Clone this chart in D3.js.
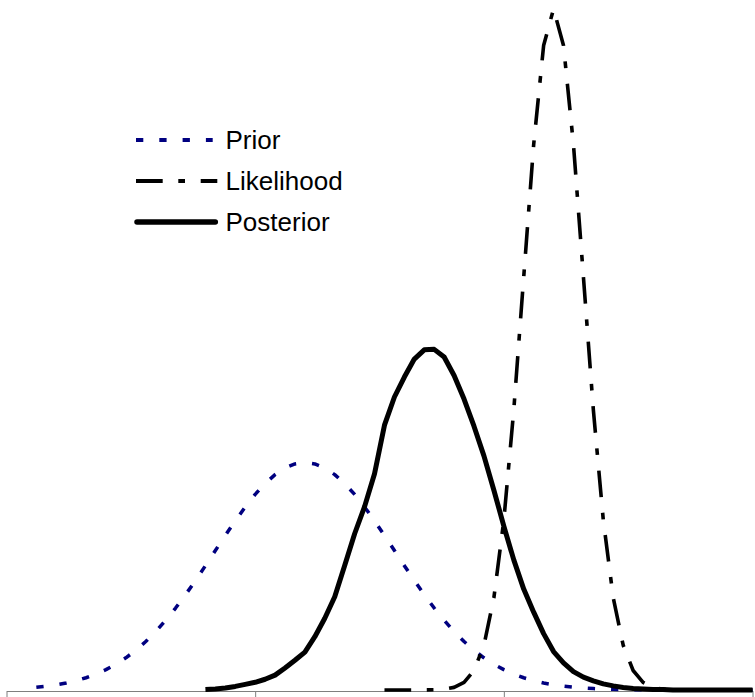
<!DOCTYPE html>
<html>
<head>
<meta charset="utf-8">
<script src="https://cdn.jsdelivr.net/npm/d3@7"></script>
<style>
  body { margin: 0; background: #fff; }
  svg { display: block; }
</style>
</head>
<body>
<script>
// x positions shared by all three curves (one value per integer step)
const xValues = [
  0, 1, 2, 3, 4, 5, 6, 7, 8, 9, 10, 11, 12, 13, 14, 15, 16, 17, 18, 19,
  20, 21, 22, 23, 24, 25, 26, 27, 28, 29, 30, 31, 32, 33, 34, 35, 36, 37, 38, 39,
  40, 41, 42, 43, 44, 45, 46, 47, 48, 49, 50, 51, 52, 53, 54, 55, 56, 57, 58, 59,
  60, 61, 62, 63, 64, 65, 66, 67, 68, 69, 70, 71, 72, 73, 74, 75
];

// null = point not plotted
const priorValues = [
  null, null, null, 0.00054, 0.00075, 0.00102, 0.00137, 0.00182, 0.00239, 0.00310,
  0.00397, 0.00502, 0.00628, 0.00775, 0.00946, 0.01142, 0.01360, 0.01600, 0.01861, 0.02138,
  0.02427, 0.02723, 0.03017, 0.03303, 0.03572, 0.03818, 0.04031, 0.04205, 0.04334, 0.04413,
  0.04440, 0.04413, 0.04334, 0.04205, 0.04031, 0.03818, 0.03572, 0.03303, 0.03017, 0.02723,
  0.02427, 0.02138, 0.01861, 0.01600, 0.01360, 0.01142, 0.00946, 0.00775, 0.00628, 0.00502,
  0.00397, 0.00310, 0.00239, 0.00182, 0.00137, 0.00102, 0.00075, 0.00054, 0.00039, 0.00028,
  0.00019, 0.00013, 0.00009, 0.00006, 0.00004, 0.00003, 0.00002, 0.00001, 0.00001, 0,
  0, 0, 0, 0, 0, 0
];

const likelihoodValues = [
  null, null, null, null, null, null, null, null, null, null,
  null, null, null, null, null, null, null, null, null, null,
  null, null, null, null, null, null, null, null, null, null,
  null, null, null, null, null, null, null, null, 0, 0,
  0, 0, 0.00001, 0.00004, 0.00016, 0.00051, 0.00148, 0.00381, 0.00874, 0.01800,
  0.03317, 0.05467, 0.08066, 0.10648, 0.12580, 0.13298, 0.12580, 0.10648, 0.08066, 0.05467,
  0.03317, 0.01800, 0.00874, 0.00381, 0.00148, 0.00051, 0.00016, 0.00004, 0.00001, 0,
  0, 0, 0, 0, 0, 0
];

const posteriorValues = [
  null, null, null, null, null, null, null, null, null, null,
  null, null, null, null, null, null, null, null, null, null,
  0.0001, 0.0002, 0.0004, 0.0007, 0.0011, 0.0015, 0.0021, 0.0029, 0.0043, 0.0058,
  0.0074, 0.0104, 0.0140, 0.0182, 0.0243, 0.0305, 0.0358, 0.0422, 0.0517, 0.0572,
  0.0611, 0.0646, 0.0664, 0.0665, 0.0650, 0.0614, 0.0568, 0.0515, 0.0457, 0.0390,
  0.0320, 0.0254, 0.0197, 0.0152, 0.0110, 0.0075, 0.0053, 0.0036, 0.0025, 0.0018,
  0.0012, 0.0008, 0.0005, 0.0003, 0.0002, 0.0001, 0.0001, 0, 0, 0,
  0, 0, 0, 0, 0, 0
];

const tickValues = [0, 25, 50, 75];
const seriesNames = ['Prior', 'Likelihood', 'Posterior'];

const width = 755;
const height = 697;

const svg = d3.select('body')
  .append('svg')
  .attr('width', width)
  .attr('height', height);

const x = d3.scaleLinear().domain([0, 75]).range([6.5, 752.5]);
const y = d3.scaleLinear().domain([0, 0.1347]).range([690, 0]);

const axis = svg.append('g')
  .attr('transform', 'translate(0,691)')
  .call(d3.axisBottom(x)
    .tickValues(tickValues)
    .tickSize(6)
    .tickSizeOuter(0)
    .tickFormat(''));
axis.selectAll('path, line').attr('stroke', '#7f7f7f').attr('stroke-width', 1);

const styles = {
  Prior: { color: '#000080', width: 3.5, dash: '7.3,16', cap: 'butt' },
  Likelihood: { color: '#000', width: 3.6, dash: '26.7,15.6,6.7,15.7', cap: 'butt' },
  Posterior: { color: '#000', width: 5, dash: null, cap: 'round' }
};

const seriesValues = {
  Prior: priorValues,
  Likelihood: likelihoodValues,
  Posterior: posteriorValues
};

const line = d3.line()
  .defined(d => d.v != null)
  .x(d => x(d.x))
  .y(d => y(d.v));

seriesNames.forEach(name => {
  const pts = xValues.map((xv, i) => ({ x: xv, v: seriesValues[name][i] }));
  const s = styles[name];
  svg.append('path')
    .datum(pts)
    .attr('fill', 'none')
    .attr('stroke', s.color)
    .attr('stroke-width', s.width)
    .attr('stroke-linejoin', 'round')
    .attr('stroke-linecap', 'butt')
    .attr('stroke-dasharray', s.dash)
    .attr('d', line);
});

// legend
const legend = svg.append('g').attr('transform', 'translate(136,140)');
const rowGap = 41;
const lineEnd = { Prior: 76.7, Likelihood: 81.3, Posterior: 79.3 };

seriesNames.forEach((name, i) => {
  const s = styles[name];
  const row = legend.append('g').attr('transform', `translate(0,${i * rowGap})`);
  row.append('line')
    .attr('x1', name === 'Posterior' ? 1 : 0)
    .attr('x2', lineEnd[name])
    .attr('y1', 0)
    .attr('y2', 0)
    .attr('stroke', s.color)
    .attr('stroke-width', name === 'Posterior' ? 5.5 : 4)
    .attr('stroke-linecap', s.cap)
    .attr('stroke-dasharray', s.dash);
  row.append('text')
    .attr('x', 89.5)
    .attr('y', 9)
    .style('font-family', '"Liberation Sans", Arial, sans-serif')
    .style('font-size', '26px')
    .attr('fill', '#000')
    .text(name);
});
</script>
</body>
</html>
